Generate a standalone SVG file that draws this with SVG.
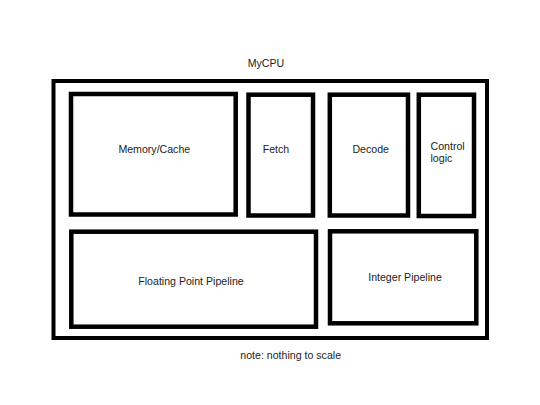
<svg xmlns="http://www.w3.org/2000/svg" width="540" height="405" viewBox="0 0 540 405">
<style>
.box{fill:#fff;stroke:#000;stroke-width:4.5}
.outer{fill:#fff;stroke:#000;stroke-width:4}
text{font-family:"Liberation Sans",Arial,sans-serif;font-size:10.6px;fill:#222}
.c{text-anchor:middle}
</style>
<rect width="540" height="405" fill="#fff"/>
<g id="mycpu">
<rect class="outer" x="53.5" y="81" width="433.5" height="257"/>
<text class="c" x="266" y="67">MyCPU</text>
</g>
<g id="memory-cache">
<rect class="box" x="71" y="94" width="164.7" height="120.5"/>
<text class="c" x="154.3" y="152.7">Memory/Cache</text>
</g>
<g id="fetch">
<rect class="box" x="248.5" y="94.7" width="64.5" height="120.8"/>
<text class="c" x="276" y="152.7">Fetch</text>
</g>
<g id="decode">
<rect class="box" x="329.8" y="94.7" width="78.2" height="120.8"/>
<text class="c" x="370.7" y="152.5">Decode</text>
</g>
<g id="control-logic">
<rect class="box" x="418.8" y="94.7" width="55.2" height="121.3"/>
<text x="430.5" y="150">Control</text>
<text x="430.5" y="161.7">logic</text>
</g>
<g id="fp-pipeline">
<rect class="box" x="71.3" y="231.7" width="244.7" height="95"/>
<text class="c" x="191" y="285">Floating Point Pipeline</text>
</g>
<g id="int-pipeline">
<rect class="box" x="330" y="231.3" width="146.3" height="92"/>
<text class="c" x="405" y="280.7">Integer Pipeline</text>
</g>
<g id="connectors"></g>
<text class="c" x="290.7" y="359.3">note: nothing to scale</text>
</svg>
